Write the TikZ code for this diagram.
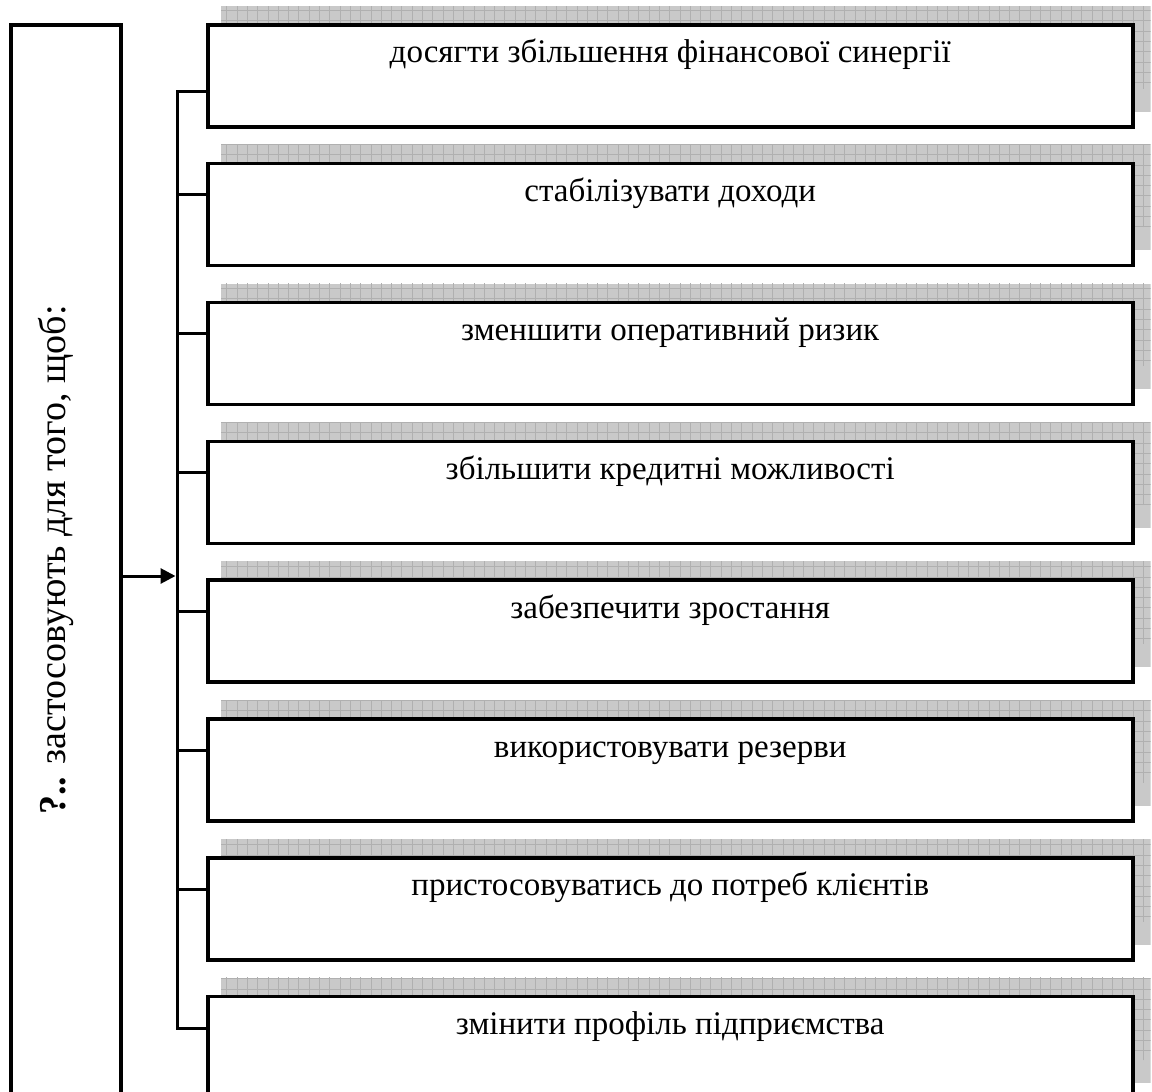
\documentclass[tikz,border=0pt]{standalone}
\usepackage{fontspec}
\setmainfont{Liberation Serif}
\usetikzlibrary{arrows.meta,calc}
\pgfdeclarelayer{bg}
\pgfsetlayers{bg,main}
\begin{document}
\begin{tikzpicture}[x=1pt,y=-1pt,
  item/.style={draw, line width=3.5pt, fill=white, minimum width=925pt, inner sep=0pt,
    text height=38pt, text depth=64pt, anchor=north west,
    font=\fontsize{33}{39}\selectfont},
  srcbox/.style={draw, line width=3.5pt, fill=white, minimum width=110pt, minimum height=1200pt,
    inner sep=0pt, anchor=north west},
  srctxt/.style={rotate=90, anchor=base, inner sep=0pt, font=\fontsize{38}{44}\selectfont},
  conn/.style={line width=3pt, line join=miter},
  shadowfill/.style={fill=gray!42},
  gridline/.style={draw=gray!62, line width=0.5pt}]
\useasboundingbox (0,0) rectangle (1152,1092);
\clip (0,0) rectangle (1152,1092);

\node[srcbox] (src) at (9,23) {};
\node[srctxt] (srctext) at (65,560) {\textbf{?..} застосовують для того, щоб:};

\node[item] (b1) at (206,23.00) {досягти збільшення фінансової синергії};
\node[item] (b2) at (206,161.85) {стабілізувати доходи};
\node[item] (b3) at (206,300.70) {зменшити оперативний ризик};
\node[item] (b4) at (206,439.55) {збільшити кредитні можливості};
\node[item] (b5) at (206,578.40) {забезпечити зростання};
\node[item] (b6) at (206,717.25) {використовувати резерви};
\node[item] (b7) at (206,856.10) {пристосовуватись до потреб клієнтів};
\node[item] (b8) at (206,994.95) {змінити профіль підприємства};

\begin{pgfonlayer}{bg}
\foreach \i in {1,...,8}{
  \begin{scope}
    \clip ($(b\i.south west)+(15,-17)$) rectangle ($(b\i.north east)+(16,-17)$);
    \fill[shadowfill] ($(b\i.south west)+(15,-17)$) rectangle ($(b\i.north east)+(16,-17)$);
    \draw[gridline] ($(b\i.south west)+(0,-40)$) grid[step=10.3pt] ($(b\i.north east)+(40,-40)$);
  \end{scope}
}
\end{pgfonlayer}

\foreach \i/\yy in {1/91,2/194,3/333,4/472,5/611,6/750,7/889,8/1028}{
  \coordinate (s\i) at (177,\yy);
}
\draw[conn] (s1 -| b1.west) -- (s1) -- (s8) -- (s8 -| b8.west);
\foreach \i in {2,...,7}{
  \draw[conn] (s\i) -- (s\i -| b\i.west);
}
\coordinate (sa) at (177,576);
\draw[conn, -{Triangle[length=15pt,width=15pt]}, shorten >=1.5pt] (src.east |- sa) -- (sa);
\end{tikzpicture}
\end{document}
